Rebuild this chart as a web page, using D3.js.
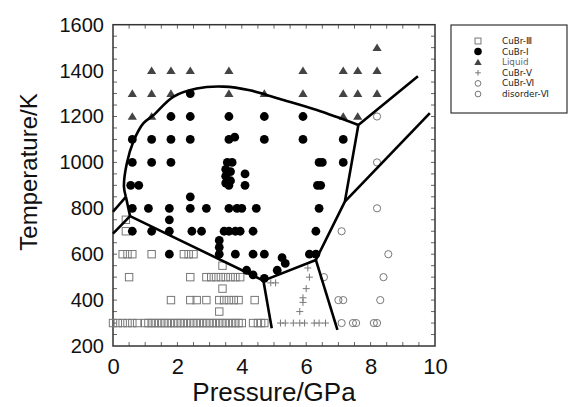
<!DOCTYPE html>
<html><head><meta charset="utf-8">
<script src="https://cdn.jsdelivr.net/npm/d3@7"></script>
<style>html,body{margin:0;padding:0;background:#fff;}svg{display:block;}</style>
</head><body>
<svg id="chart" width="569" height="407"></svg>
<script>
// ---------- data ----------
const xTickLabels = [0, 2, 4, 6, 8, 10];
const yTickLabels = [200, 400, 600, 800, 1000, 1200, 1400, 1600];

const cubr3 = [
  [0.0,300],[0.15,300],[0.3,300],[0.45,300],[0.6,300],[0.75,300],
  [1.0,300],[1.1,300],[1.2,300],[1.3,300],[1.4,300],[1.5,300],[1.6,300],[1.7,300],[1.8,300],[1.9,300],
  [2.0,300],[2.1,300],[2.2,300],[2.3,300],[2.4,300],[2.5,300],[2.6,300],[2.7,300],[2.8,300],[2.9,300],
  [3.0,300],[3.1,300],[3.2,300],[3.3,300],[3.4,300],[3.5,300],[3.6,300],[3.7,300],[3.8,300],[3.9,300],[4.0,300],
  [4.35,300],[4.5,300],[4.6,300],[4.7,300],
  [3.3,350],
  [1.8,400],[2.4,400],[2.6,400],[2.9,400],[3.3,400],[3.45,400],[3.6,400],[3.75,400],[3.9,400],[4.4,400],
  [3.4,450],
  [0.5,500],[2.4,500],[2.9,500],[3.05,500],[3.2,500],[3.35,500],[3.5,500],[3.65,500],[3.8,500],[3.95,500],
  [3.4,550],
  [0.3,600],[0.45,600],[0.6,600],[1.2,600],[2.2,600],[2.35,600],[2.5,600],
  [0.4,700],[0.4,750]
];
const cubr1 = [
  [2.4,1300],
  [1.8,1200],[2.4,1200],[3.6,1200],[4.7,1200],[5.9,1200],
  [0.6,1100],[1.2,1100],[1.8,1100],[2.4,1100],[3.6,1100],[3.78,1110],[4.7,1100],[5.9,1100],[7.15,1100],
  [0.6,1000],[1.2,1000],[1.8,1000],[3.55,1000],[3.7,1000],[6.4,1000],[6.5,1000],[7.15,1000],
  [3.5,970],[3.5,940],[3.5,910],[3.65,960],[3.65,920],[3.6,900],[4.1,950],[4.1,900],
  [0.55,900],[0.8,900],[6.35,900],[6.45,900],
  [2.4,850],
  [0.6,800],[1.1,800],[1.75,800],[2.4,800],[2.9,800],[3.6,800],[3.85,800],[4.0,800],[4.45,800],[6.4,800],
  [1.75,750],
  [0.6,700],[1.2,700],[1.75,700],[2.45,700],[2.75,700],[3.45,700],[3.6,700],[3.8,700],[3.95,700],[4.35,700],[6.3,700],
  [3.3,660],[3.3,630],
  [1.75,600],[3.3,600],[3.8,600],[4.35,600],[4.7,600],[6.1,600],[6.3,600],
  [5.25,585],[5.35,560],[5.1,530],[4.15,530],[4.35,510],[4.7,495]
];
const liquid = [
  [8.2,1500],
  [1.2,1400],[1.8,1400],[2.4,1400],[3.6,1400],[5.9,1400],[7.15,1400],[7.6,1400],[8.2,1400],
  [0.6,1300],[1.2,1300],[1.8,1300],[3.6,1300],[4.7,1300],[5.9,1300],[7.15,1300],[7.6,1300],[8.2,1300],
  [0.6,1200],[1.2,1200],[7.15,1200],[7.6,1200]
];
const cubr5 = [
  [5.2,300],[5.35,300],[5.6,300],[5.8,300],[5.95,300],[6.25,300],[6.4,300],[6.6,300],
  [5.8,350],[5.9,390],[5.9,410],[6.0,450],[6.1,500],[6.05,540],[4.9,475],[5.05,475]
];
const cubr6 = [
  [7.1,300],[7.45,300],[7.55,300],[8.1,300],[8.2,300],
  [7.0,400],[7.15,400],[8.3,400],[6.55,500],[8.4,500],[8.55,600],[7.1,700]
];
const disorder6 = [[8.2,800],[8.2,1000],[8.2,1200]];

// phase boundaries
const liquidusCurve = [[0.40,850],[0.34,894],[0.43,996],[0.63,1090],[0.94,1170],[1.25,1205],[1.87,1286],
  [2.6,1322],[3.43,1330],[4.25,1314],[5.29,1272],[6.33,1228],[7.62,1163]];
const boundaryLines = [
  [[0,785],[0.40,850]],
  [[0.40,850],[0.53,766]],
  [[0,690],[0.53,766]],
  [[0.53,766],[4.67,485],[6.3,575],[7.2,829],[7.62,1163],[9.47,1375]],
  [[4.67,485],[4.93,277]],
  [[6.3,575],[6.97,270]],
  [[7.2,829],[9.84,1215]]
];

const legendItems = [
  {label:"CuBr-Ⅲ", type:"square"},
  {label:"CuBr-Ⅰ", type:"dot"},
  {label:"Liquid", type:"triangle"},
  {label:"CuBr-Ⅴ", type:"cross"},
  {label:"CuBr-Ⅵ", type:"circle"},
  {label:"disorder-Ⅵ", type:"circle"}
];

// ---------- drawing ----------
const svg = d3.select("#chart");
const L = 113, R = 435, T = 24.7, B = 346;
const x = d3.scaleLinear().domain([0,10]).range([L,R]);
const y = d3.scaleLinear().domain([200,1600]).range([B,T]);

// minor ticks
const xMinor = d3.range(0, 10.01, 0.5);
const yMinor = d3.range(200, 1600.1, 50);
const tk = svg.append("g").attr("stroke", "#666").attr("stroke-width", 1);
xMinor.forEach(v => {
  if (v === 0 || v === 10) return;
  tk.append("line").attr("x1", x(v)).attr("x2", x(v)).attr("y1", B).attr("y2", B-4);
  tk.append("line").attr("x1", x(v)).attr("x2", x(v)).attr("y1", T).attr("y2", T+4);
});
yMinor.forEach(v => {
  if (v === 200 || v === 1600) return;
  tk.append("line").attr("y1", y(v)).attr("y2", y(v)).attr("x1", L).attr("x2", L+4);
  tk.append("line").attr("y1", y(v)).attr("y2", y(v)).attr("x1", R).attr("x2", R-4);
});

// axes labels via d3 axes
const xAxis = d3.axisBottom(x).tickValues(xTickLabels).tickSize(0).tickPadding(12).tickFormat(d3.format("d"));
const gx = svg.append("g").attr("transform", `translate(0,${B})`).call(xAxis);
gx.select(".domain").remove();
gx.selectAll("text").attr("font-family", "Liberation Sans, Arial, sans-serif").attr("font-size", 22).attr("fill", "#111");

const yAxis = d3.axisLeft(y).tickValues(yTickLabels).tickSize(0).tickPadding(9).tickFormat(d3.format("d"));
const gy = svg.append("g").attr("transform", `translate(${L},0)`).call(yAxis);
gy.select(".domain").remove();
gy.selectAll("text").attr("font-family", "Liberation Sans, Arial, sans-serif").attr("font-size", 20).attr("fill", "#111");

// frame
svg.append("rect").attr("x", L).attr("y", T).attr("width", R-L).attr("height", B-T)
  .attr("fill", "none").attr("stroke", "#333").attr("stroke-width", 1.5);

// axis titles
svg.append("text").attr("x", (L+R)/2).attr("y", 401).attr("text-anchor", "middle")
  .attr("font-family", "Liberation Sans, Arial, sans-serif").attr("font-size", 26).attr("fill", "#111")
  .text("Pressure/GPa");
svg.append("text").attr("transform", "translate(37,172) rotate(-90)").attr("text-anchor", "middle")
  .attr("font-family", "Liberation Sans, Arial, sans-serif").attr("font-size", 24).attr("fill", "#111")
  .text("Temperature/K");

// markers
const plot = svg.append("g");
function drawMarker(g, type, cx, cy, s) {
  s = s || 1;
  if (type === "square") {
    g.append("rect").attr("x", cx-3.7*s).attr("y", cy-3.7*s).attr("width", 7.4*s).attr("height", 7.4*s)
      .attr("fill", "none").attr("stroke", "#777").attr("stroke-width", 1);
  } else if (type === "dot") {
    g.append("circle").attr("cx", cx).attr("cy", cy).attr("r", 4.4*s).attr("fill", "#000");
  } else if (type === "triangle") {
    const h = 4.2*s;
    g.append("path").attr("d", `M${cx},${cy-h}L${cx+h*1.1},${cy+h*0.8}L${cx-h*1.1},${cy+h*0.8}Z`).attr("fill", "#444");
  } else if (type === "cross") {
    g.append("path").attr("d", `M${cx-3.5*s},${cy}H${cx+3.5*s}M${cx},${cy-3.5*s}V${cy+3.5*s}`)
      .attr("stroke", "#777").attr("stroke-width", 1).attr("fill", "none");
  } else if (type === "circle") {
    g.append("circle").attr("cx", cx).attr("cy", cy).attr("r", 3.6*s)
      .attr("fill", "none").attr("stroke", "#777").attr("stroke-width", 1);
  }
}
const series = [[cubr3,"square"],[liquid,"triangle"],[cubr5,"cross"],[cubr6,"circle"],[disorder6,"circle"],[cubr1,"dot"]];
series.forEach(([data, type]) => data.forEach(d => drawMarker(plot, type, x(d[0]), y(d[1]))));

// boundaries
const line = d3.line().x(d => x(d[0])).y(d => y(d[1]));
const curve = d3.line().x(d => x(d[0])).y(d => y(d[1])).curve(d3.curveCatmullRom.alpha(0.5));
svg.append("path").attr("d", curve(liquidusCurve)).attr("fill", "none").attr("stroke", "#000")
  .attr("stroke-width", 2.6).attr("stroke-linejoin", "round");
boundaryLines.forEach(seg => svg.append("path").attr("d", line(seg)).attr("fill", "none")
  .attr("stroke", "#000").attr("stroke-width", 2.6).attr("stroke-linejoin", "round"));

// legend
const lg = svg.append("g");
lg.append("rect").attr("x", 451).attr("y", 25).attr("width", 116).attr("height", 88)
  .attr("fill", "#fff").attr("stroke", "#333").attr("stroke-width", 1.2);
legendItems.forEach((it, i) => {
  const yy = 41 + i*10.6;
  drawMarker(lg, it.type, 478, yy, it.type === "dot" ? 0.85 : 0.8);
  lg.append("text").attr("x", 502).attr("y", yy).attr("dy", "0.35em")
    .attr("font-family", "DejaVu Sans, sans-serif").attr("font-size", 8.8)
    .attr("fill", it.type === "triangle" ? "#666" : "#222").text(it.label);
});
</script>
</body></html>
